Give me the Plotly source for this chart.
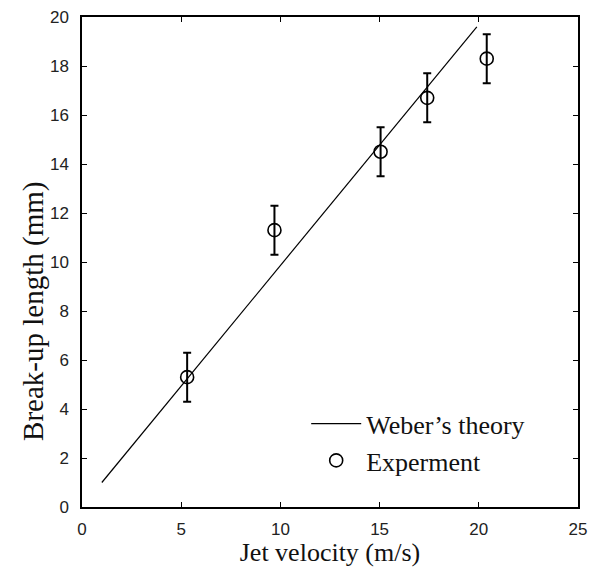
import plotly.graph_objects as go

# Weber's theory line
weber_x = [1.0, 19.9]
weber_y = [1.0, 19.6]

# Experimental points with error bars
exp_x = [5.3, 9.7, 15.05, 17.4, 20.4]
exp_y = [5.3, 11.3, 14.5, 16.7, 18.3]
exp_err = [1.0, 1.0, 1.0, 1.0, 1.0]

x_ticks = [0, 5, 10, 15, 20, 25]
y_ticks = [0, 2, 4, 6, 8, 10, 12, 14, 16, 18, 20]

fig = go.Figure()
fig.add_trace(go.Scatter(
    x=weber_x, y=weber_y, mode="lines", name="Weber\u2019s theory",
    line=dict(color="black", width=1.2)))
fig.add_trace(go.Scatter(
    x=exp_x, y=exp_y, mode="markers", name="Experment",
    marker=dict(symbol="circle-open", size=13, color="black",
                line=dict(width=1.6, color="black")),
    error_y=dict(type="data", array=exp_err, visible=True,
                 color="black", thickness=2, width=4)))

axis_common = dict(
    showline=True, linecolor="black", linewidth=1.5, mirror="ticks",
    ticks="inside", ticklen=5, tickwidth=1.2, tickcolor="black",
    showgrid=False, zeroline=False, automargin=False,
    ticklabeloverflow="allow",
    tickfont=dict(family="Liberation Sans", size=17, color="#222"),
)

fig.update_layout(
    width=591, height=559,
    margin=dict(l=74, r=21, t=9, b=60),
    paper_bgcolor="white", plot_bgcolor="white",
    xaxis=dict(range=[0, 25], tickvals=x_ticks, ticklabelstandoff=6,
               title=dict(text="Jet velocity (m/s)", standoff=6,
                          font=dict(family="Liberation Serif", size=26, color="#111")),
               **axis_common),
    yaxis=dict(range=[0, 20], tickvals=y_ticks, ticklabelstandoff=8,
               **axis_common),
    annotations=[dict(
        text="Break-up length (mm)", textangle=-90, showarrow=False,
        xref="paper", yref="paper", x=-0.099, y=0.40,
        xanchor="center", yanchor="middle",
        font=dict(family="Liberation Serif", size=29, color="#111"))],
    showlegend=True,
    legend=dict(x=0.452, y=0.218, xanchor="left", yanchor="top",
                bgcolor="rgba(0,0,0,0)", borderwidth=0, itemwidth=50,
                font=dict(family="Liberation Serif", size=26, color="#111"),
                tracegroupgap=0),
)

fig.write_html("out.html")
